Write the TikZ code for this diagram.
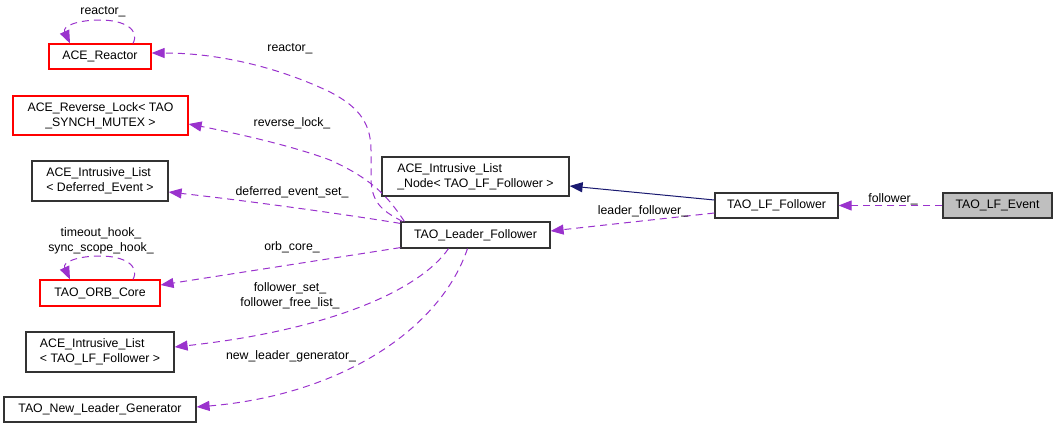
\documentclass[tikz,border=0pt]{standalone}
\usepackage{fontspec}
\setmainfont{Liberation Sans}
\usetikzlibrary{arrows.meta}
\definecolor{edgepurple}{HTML}{9A32CD}
\definecolor{edgenavy}{HTML}{191970}
\definecolor{boxgray}{HTML}{BFBFBF}
\tikzset{
  cls/.style={draw=black!80, line width=1.2pt, inner sep=2pt, font=\fontsize{12.3}{15}\selectfont},
  redcls/.style={cls, draw=red},
  usage/.style={draw=edgepurple, line width=1pt, dash pattern=on 7pt off 5pt, -{Triangle[length=13pt,width=10pt]}},
  inherit/.style={draw=edgenavy, line width=1pt, -{Triangle[length=13pt,width=10pt]}},
  lbl/.style={font=\fontsize{12.3}{15}\selectfont, inner sep=0pt, align=center}
}
\begin{document}
\begin{tikzpicture}[x=1pt,y=-1pt]
\useasboundingbox (0,0) rectangle (1057,429);
% nodes
\node[redcls, minimum width=102pt, minimum height=25pt] (reactor) at (100,56.5) {ACE\_Reactor};
\node[redcls, minimum width=175pt, minimum height=39pt, align=center] (revlock) at (100.5,115.5) {ACE\_Reverse\_Lock< TAO\\\_SYNCH\_MUTEX >};
\node[cls, minimum width=136pt, minimum height=40pt, align=left] (deflist) at (100,181) {ACE\_Intrusive\_List\\< Deferred\_Event >};
\node[redcls, minimum width=120pt, minimum height=26pt] (orbcore) at (100,293) {TAO\_ORB\_Core};
\node[cls, minimum width=148pt, minimum height=40pt, align=left] (follist) at (100,352) {ACE\_Intrusive\_List\\< TAO\_LF\_Follower >};
\node[cls, minimum width=192pt, minimum height=25pt] (newgen) at (100,409.5) {TAO\_New\_Leader\_Generator};
\node[cls, minimum width=187pt, minimum height=39pt, align=left] (listnode) at (475.5,176.5) {ACE\_Intrusive\_List\\\_Node< TAO\_LF\_Follower >};
\node[cls, minimum width=149pt, minimum height=26pt] (leader) at (475.5,235) {TAO\_Leader\_Follower};
\node[cls, minimum width=123pt, minimum height=25pt] (lffollower) at (776.5,205.5) {TAO\_LF\_Follower};
\node[cls, fill=boxgray, minimum width=109pt, minimum height=25pt] (lfevent) at (997.5,205.5) {TAO\_LF\_Event};

% self loops
\draw[usage] ([xshift=33pt]reactor.north) .. controls (140,30) and (125,20) .. (100,20) .. controls (78,20) and (62,26) .. ([xshift=-30pt]reactor.north);
\node[lbl] (lreact0) at (103,12) {reactor\_};
\draw[usage] ([xshift=33pt]orbcore.north) .. controls (140,266) and (125,256) .. (100,256) .. controls (78,256) and (62,262) .. ([xshift=-30pt]orbcore.north);
\node[lbl] (lorb0) at (101,240.5) {timeout\_hook\_\\sync\_scope\_hook\_};

% edges from TAO_Leader_Follower
\draw[usage] ([xshift=2pt]leader.north west) .. controls (385,212) and (372,205) .. (371,180) -- (371,150) .. controls (371,120) and (355,105) .. (330,92) .. controls (280,68) and (220,53) .. ([yshift=3.5pt]reactor.east);
\node[lbl] (lreact1) at (290,49) {reactor\_};
\draw[usage] ([xshift=4pt]leader.north west) .. controls (390,200) and (375,180) .. (330,160) .. controls (290,145) and (230,132) .. ([yshift=-8.5pt]revlock.east);
\node[lbl] (lrev) at (292,123) {reverse\_lock\_};
\draw[usage] ([yshift=-2pt]leader.north west) .. controls (330,212) and (240,200) .. ([yshift=-11pt]deflist.east);
\node[lbl] (ldef) at (292,192) {deferred\_event\_set\_};
\draw[usage] ([yshift=1pt]leader.south west) -- ([yshift=8pt]orbcore.east);
\node[lbl] (lorb) at (292,247) {orb\_core\_};
\draw[usage] ([xshift=-27pt]leader.south) .. controls (420,290) and (330,330) .. ([yshift=5pt]follist.east);
\node[lbl] (lfset) at (290,295.5) {follower\_set\_\\follower\_free\_list\_};
\draw[usage] ([xshift=-8pt]leader.south) .. controls (440,330) and (340,395) .. ([yshift=2.5pt]newgen.east);
\node[lbl] (lnew) at (291,356) {new\_leader\_generator\_};

% edges from TAO_LF_Follower
\draw[inherit] ([yshift=5.5pt]lffollower.west) -- ([yshift=-9.5pt]listnode.east);
\draw[usage] ([yshift=-7.5pt]lffollower.west) -- ([yshift=4pt]leader.east);
\node[lbl] (llf) at (643,211) {leader\_follower\_};

% edge from TAO_LF_Event
\draw[usage] (lfevent.west) -- (lffollower.east);
\node[lbl] (lfol) at (893,199) {follower\_};
\end{tikzpicture}
\end{document}
